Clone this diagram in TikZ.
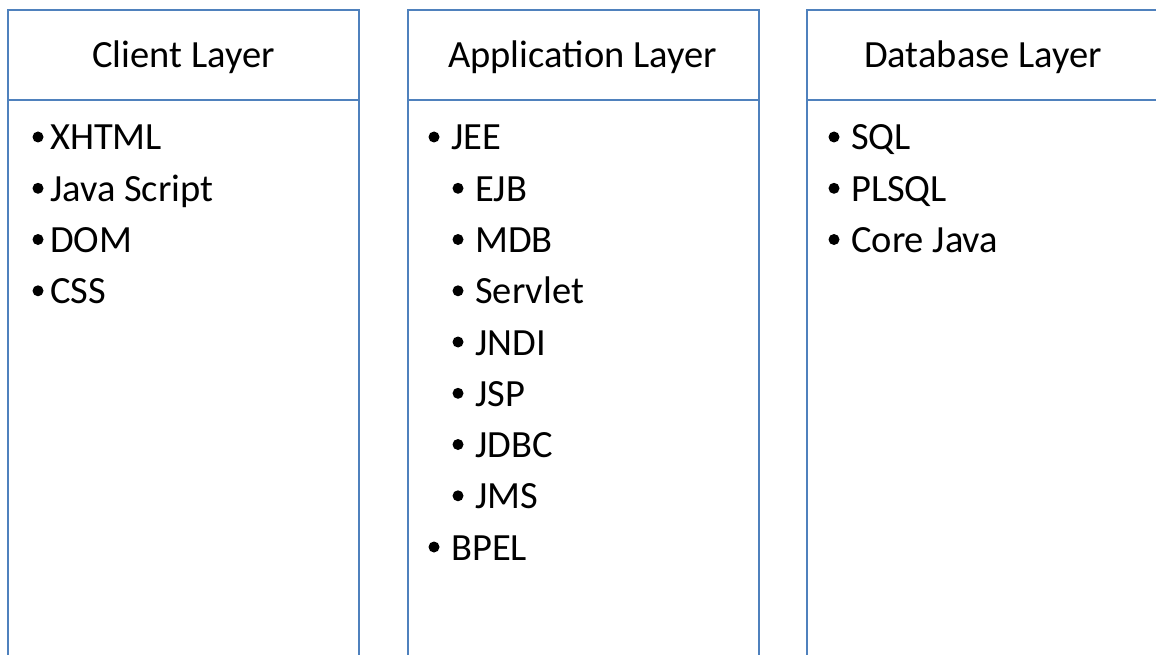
\documentclass[tikz,border=0pt]{standalone}
\usepackage{fontspec}
\setmainfont{Carlito}
\definecolor{layerblue}{HTML}{4F81BD}
\begin{document}
\begin{tikzpicture}[x=1pt,y=-1pt,
  frame/.style={draw=layerblue,line width=2.8pt},
  head/.style={anchor=base,inner sep=0pt,font=\fontsize{38.5}{40}\selectfont},
  item/.style={anchor=base west,inner sep=0pt,font=\fontsize{38.5}{40}\selectfont},
  dot/.style={circle,fill=black,inner sep=0pt,minimum size=11pt}]
\useasboundingbox (0,0) rectangle (1156,655);
\clip (0,0) rectangle (1156,655);
\fill[white] (0,0) rectangle (1156,655);
% columns
\draw[frame] (8,10) rectangle (359,700);
\draw[frame] (8,100) -- (359,100);
\draw[frame] (408,10) rectangle (759,700);
\draw[frame] (408,100) -- (759,100);
\draw[frame] (807,10) rectangle (1158,700);
\draw[frame] (807,100) -- (1158,100);
% headers
\node[head] (h1) at (183.5,68) {Client Layer};
\node[head] (h2) at (582.5,68) {Application Layer};
\node[head] (h3) at (983,68) {Database Layer};
% client items
\node[dot] (cb1) at (38,137) {}; \node[item] (c1) at (50,150) {XHTML};
\node[dot] (cb2) at (38,188.3) {}; \node[item] (c2) at (50,201.3) {Java Script};
\node[dot] (cb3) at (38,239.5) {}; \node[item] (c3) at (50,252.5) {DOM};
\node[dot] (cb4) at (38,290.8) {}; \node[item] (c4) at (50,303.8) {CSS};
% application items
\node[dot] (ab1) at (434,137) {}; \node[item] (a1) at (451,150) {JEE};
\node[dot] (ab2) at (458,188.3) {}; \node[item] (a2) at (475,201.3) {EJB};
\node[dot] (ab3) at (458,239.5) {}; \node[item] (a3) at (475,252.5) {MDB};
\node[dot] (ab4) at (458,290.8) {}; \node[item] (a4) at (475,303.8) {Servlet};
\node[dot] (ab5) at (458,342) {}; \node[item] (a5) at (475,355) {JNDI};
\node[dot] (ab6) at (458,393.3) {}; \node[item] (a6) at (475,406.3) {JSP};
\node[dot] (ab7) at (458,444.5) {}; \node[item] (a7) at (475,457.5) {JDBC};
\node[dot] (ab8) at (458,495.8) {}; \node[item] (a8) at (475,508.8) {JMS};
\node[dot] (ab9) at (434,547) {}; \node[item] (a9) at (451,560) {BPEL};
% database items
\node[dot] (db1) at (834,137) {}; \node[item] (d1) at (851,150) {SQL};
\node[dot] (db2) at (834,188.3) {}; \node[item] (d2) at (851,201.3) {PLSQL};
\node[dot] (db3) at (834,239.5) {}; \node[item] (d3) at (851,252.5) {Core Java};
\end{tikzpicture}
\end{document}
